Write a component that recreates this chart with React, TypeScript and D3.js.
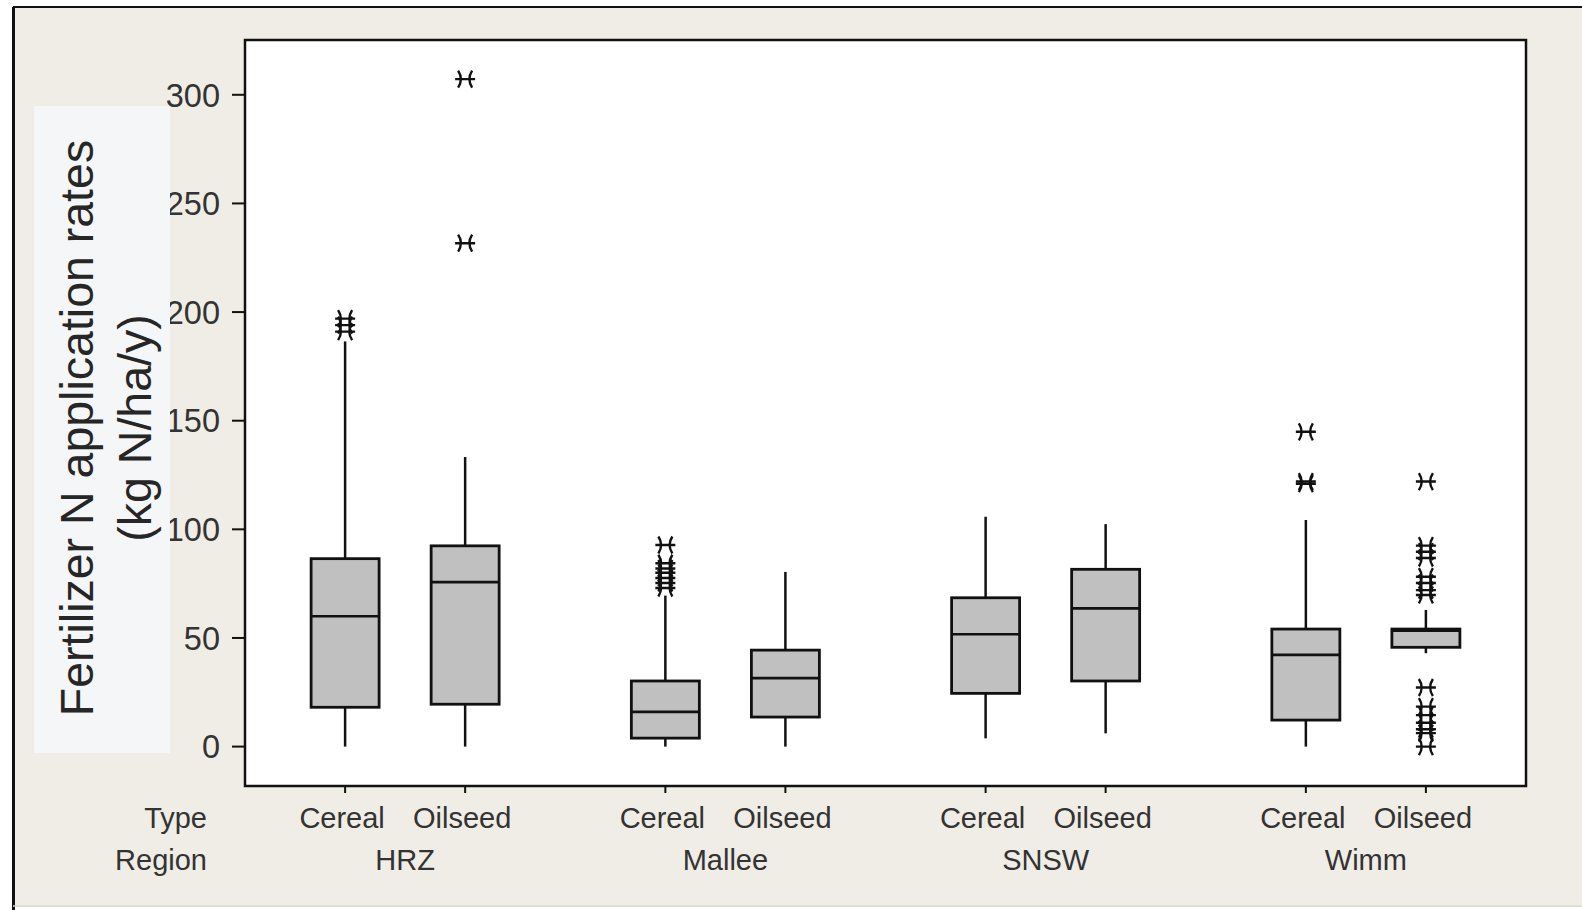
import React from "react";
import * as d3 from "d3";

const regions = ["HRZ", "Mallee", "SNSW", "Wimm"];
const types = ["Cereal", "Oilseed"];
const yTicks = [0, 50, 100, 150, 200, 250, 300];

// order: HRZ-Cereal, HRZ-Oilseed, Mallee-Cereal, Mallee-Oilseed, SNSW-Cereal, SNSW-Oilseed, Wimm-Cereal, Wimm-Oilseed
const whiskerLow = [0, 0, 0, 0, 3.8, 6.1, 0, 43];
const q1 = [18.1, 19.5, 3.9, 13.6, 24.5, 30.2, 12.2, 45.7];
const median = [60, 75.7, 16, 31.5, 51.7, 63.6, 42.2, 53.4];
const q3 = [86.5, 92.4, 30.2, 44.4, 68.5, 81.6, 54.1, 54.1];
const whiskerHigh = [186.5, 133.3, 69.5, 80.4, 105.8, 102.4, 104.3, 62.9];
const outliers = [
  [197, 194, 191],
  [307.2, 231.7],
  [92.8, 84.4, 82, 80, 77.6, 75.3, 73],
  [],
  [],
  [],
  [144.9, 122, 121],
  [122, 92.5, 89.7, 86.8, 78.2, 75.3, 72, 69.8, 27.2, 18.4, 14.5, 11, 8, 6.2, 0],
];

const W = 1582;
const H = 910;
const plot = { left: 245, right: 1526, top: 40, bottom: 786 };

const starPath = "M-10,0H10M-7,-8.5Q-1.5,0,-7,8.5M7,-8.5Q1.5,0,7,8.5";

export default function App() {
  const y = d3.scaleLinear().domain([0, 300]).range([746.6, 94.8]);
  const xRegion = d3.scaleBand<string>().domain(regions).range([plot.left, plot.right]).padding(0);
  const bw = xRegion.bandwidth();
  const xType = d3.scalePoint<string>().domain(types).range([0, bw]).padding(0.834);
  const boxW = 68;
  const font = "'Liberation Sans', Arial, sans-serif";
  const ink = "#262626";

  const boxes: { cx: number; i: number; type: string }[] = [];
  regions.forEach((r, ri) => {
    types.forEach((t, ti) => {
      const i = ri * 2 + ti;
      boxes.push({ cx: (xRegion(r) as number) + (xType(t) as number), i, type: t });
    });
  });

  return (
    <svg width={W} height={H} style={{ position: "absolute", left: 0, top: 0 }} xmlns="http://www.w3.org/2000/svg">
      <rect x={0} y={0} width={W} height={H} fill="#ffffff" />
      <rect x={13} y={7} width={W - 13} height={898} fill="#efede5" />
      <line x1={13} y1={7} x2={W} y2={7} stroke="#111" strokeWidth={2} />
      <line x1={13.5} y1={7} x2={13.5} y2={910} stroke="#111" strokeWidth={3} />
      <line x1={13} y1={906} x2={W} y2={906} stroke="#d6d4cc" strokeWidth={1.5} />

      <rect x={plot.left} y={plot.top} width={plot.right - plot.left} height={plot.bottom - plot.top} fill="#ffffff" />

      {/* y ticks */}
      {yTicks.map((t) => (
        <g key={t}>
          <line x1={232} x2={plot.left} y1={y(t)} y2={y(t)} stroke="#111" strokeWidth={2} />
          <text x={220} y={y(t)} dy="0.36em" textAnchor="end" fontFamily={font} fontSize={32.5} fill="#333">
            {t}
          </text>
        </g>
      ))}

      {/* y title background */}
      <rect x={34} y={106} width={136} height={647} fill="#f5f6f8" />
      <g transform="translate(0,428)">
        <text transform="translate(93,0) rotate(-90)" textAnchor="middle" fontFamily={font} fontSize={46.5} fill={ink}>
          Fertilizer N application rates
        </text>
        <text transform="translate(151,0) rotate(-90)" textAnchor="middle" fontFamily={font} fontSize={46.5} fill={ink}>
          (kg N/ha/y)
        </text>
      </g>

      {/* boxes */}
      {boxes.map(({ cx, i }) => (
        <g key={i}>
          <line x1={cx} x2={cx} y1={y(whiskerLow[i])} y2={y(q1[i])} stroke="#111" strokeWidth={2.5} />
          <line x1={cx} x2={cx} y1={y(q3[i])} y2={y(whiskerHigh[i])} stroke="#111" strokeWidth={2.5} />
          <rect
            x={cx - boxW / 2}
            y={y(q3[i])}
            width={boxW}
            height={y(q1[i]) - y(q3[i])}
            fill="#c0c0c0"
            stroke="#111"
            strokeWidth={2.8}
          />
          <line x1={cx - boxW / 2} x2={cx + boxW / 2} y1={y(median[i])} y2={y(median[i])} stroke="#111" strokeWidth={2.6} />
          {outliers[i].map((v, k) => (
            <path key={k} d={starPath} transform={`translate(${cx},${y(v)})`} fill="none" stroke="#111" strokeWidth={2.4} />
          ))}
          <line x1={cx} x2={cx} y1={plot.bottom} y2={plot.bottom + 7} stroke="#111" strokeWidth={2} />
        </g>
      ))}

      {/* plot frame */}
      <rect
        x={plot.left}
        y={plot.top}
        width={plot.right - plot.left}
        height={plot.bottom - plot.top}
        fill="none"
        stroke="#111"
        strokeWidth={2.5}
      />

      {/* x labels */}
      <text x={207} y={828} textAnchor="end" fontFamily={font} fontSize={29} fill="#333">Type</text>
      <text x={207} y={870} textAnchor="end" fontFamily={font} fontSize={29} fill="#333">Region</text>
      {boxes.map(({ cx, i, type }) => (
        <text key={"t" + i} x={cx} dx={-3} y={828} textAnchor="middle" fontFamily={font} fontSize={29} fill="#333">
          {type}
        </text>
      ))}
      {regions.map((r) => (
        <text key={r} x={(xRegion(r) as number) + bw / 2} y={870} textAnchor="middle" fontFamily={font} fontSize={29} fill="#333">
          {r}
        </text>
      ))}
    </svg>
  );
}
